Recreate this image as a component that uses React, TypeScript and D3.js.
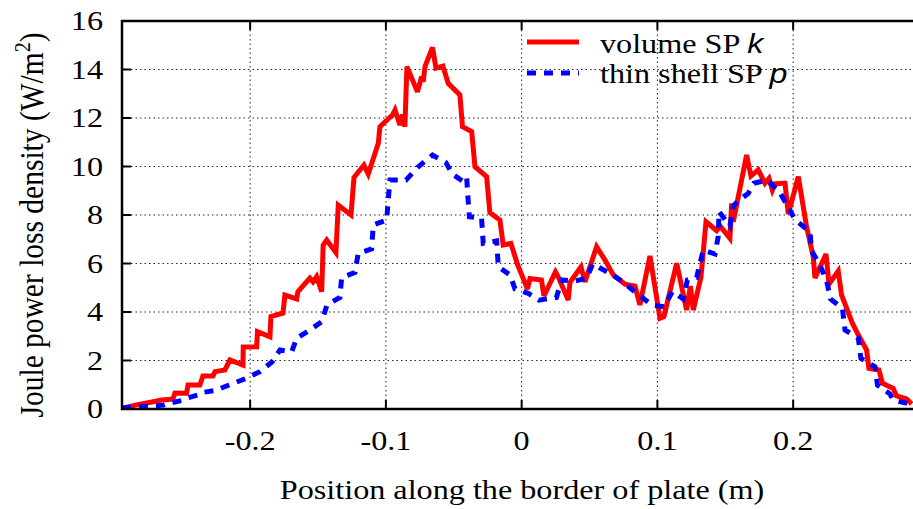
import React from "react";
import * as d3 from "d3";

const volumeSP: [number, number][] = [
  [-0.2944,0.02],[-0.2847,0.16],[-0.2751,0.26],[-0.2652,0.37],[-0.2569,0.41],[-0.2554,0.66],[-0.2468,0.65],[-0.2458,0.99],[-0.2370,0.99],[-0.2348,1.36],[-0.2274,1.36],[-0.2259,1.54],[-0.2186,1.61],[-0.2149,2.02],[-0.2053,1.81],[-0.2051,2.56],[-0.1952,2.57],[-0.1946,3.19],[-0.1854,2.98],[-0.1847,3.81],[-0.1758,3.96],[-0.1744,4.70],[-0.1657,4.54],[-0.1648,4.84],[-0.1560,5.40],[-0.1537,5.24],[-0.1510,5.46],[-0.1473,4.84],[-0.1462,6.76],[-0.1436,6.97],[-0.1368,6.45],[-0.1351,8.41],[-0.1257,8.00],[-0.1235,9.55],[-0.1162,10.06],[-0.1130,9.69],[-0.1056,10.96],[-0.1044,11.64],[-0.0952,12.12],[-0.0933,12.33],[-0.0897,11.71],[-0.0878,12.14],[-0.0860,11.64],[-0.0845,14.12],[-0.0768,13.08],[-0.0737,13.70],[-0.0725,13.50],[-0.0712,14.12],[-0.0657,14.91],[-0.0631,14.06],[-0.0580,14.14],[-0.0541,13.43],[-0.0455,12.95],[-0.0436,11.64],[-0.0368,11.44],[-0.0344,9.99],[-0.0258,9.58],[-0.0234,8.10],[-0.0160,7.79],[-0.0136,6.76],[-0.0079,6.83],[-0.0030,5.95],[0.0043,4.95],[0.0061,5.38],[0.0146,5.32],[0.0164,4.66],[0.0249,5.65],[0.0270,5.44],[0.0343,4.49],[0.0356,5.22],[0.0437,5.86],[0.0466,5.24],[0.0552,6.69],[0.0614,6.14],[0.0675,5.53],[0.0761,5.15],[0.0835,5.07],[0.0871,4.29],[0.0945,6.31],[0.1019,3.74],[0.1048,3.81],[0.1142,6.01],[0.1215,4.08],[0.1243,5.07],[0.1264,4.08],[0.1321,5.44],[0.1358,7.72],[0.1436,7.36],[0.1461,7.55],[0.1534,7.04],[0.1547,8.48],[0.1559,7.72],[0.1657,10.47],[0.1689,9.61],[0.1743,9.86],[0.1792,9.31],[0.1822,9.51],[0.1847,9.03],[0.1866,9.28],[0.1918,9.31],[0.1940,9.31],[0.1964,8.04],[0.2038,9.58],[0.2099,7.51],[0.2148,6.28],[0.2161,5.40],[0.2242,6.39],[0.2264,5.15],[0.2332,5.69],[0.2357,4.70],[0.2437,3.53],[0.2474,3.12],[0.2541,2.43],[0.2558,1.68],[0.2632,1.61],[0.2658,1.06],[0.2737,0.85],[0.2762,0.54],[0.2836,0.41],[0.2873,0.21]
];

const thinShellSP: [number, number][] = [
  [-0.2944,0.04],[-0.2847,0.10],[-0.2751,0.10],[-0.2641,0.16],[-0.2604,0.23],[-0.2505,0.35],[-0.2468,0.45],[-0.2382,0.58],[-0.2357,0.68],[-0.2259,0.76],[-0.2156,0.99],[-0.2124,1.06],[-0.2026,1.27],[-0.2009,1.33],[-0.1928,1.54],[-0.1839,1.94],[-0.1780,2.43],[-0.1694,2.36],[-0.1657,2.92],[-0.1559,3.26],[-0.1473,3.60],[-0.1434,4.29],[-0.1339,4.60],[-0.1326,5.42],[-0.1228,5.63],[-0.1204,6.42],[-0.1105,6.60],[-0.1093,7.59],[-0.0994,7.79],[-0.0983,8.62],[-0.0970,9.44],[-0.0852,9.44],[-0.0768,9.96],[-0.0657,10.47],[-0.0558,10.16],[-0.0510,9.69],[-0.0436,9.40],[-0.0405,9.57],[-0.0396,8.75],[-0.0385,7.93],[-0.0295,7.86],[-0.0283,6.83],[-0.0184,6.93],[-0.0172,5.87],[-0.0086,5.53],[-0.0049,4.95],[0.0049,4.77],[0.0127,4.49],[0.0256,4.60],[0.0295,5.32],[0.0396,5.28],[0.0481,5.40],[0.0522,5.98],[0.0638,5.63],[0.0737,5.28],[0.0846,4.78],[0.0960,4.29],[0.1048,4.22],[0.1111,4.85],[0.1190,4.54],[0.1221,5.32],[0.1289,5.42],[0.1338,6.56],[0.1424,6.39],[0.1448,7.11],[0.1454,8.14],[0.1534,7.55],[0.1559,8.37],[0.1601,8.62],[0.1669,8.89],[0.1711,9.31],[0.1805,9.44],[0.1829,9.34],[0.1906,8.89],[0.1954,8.41],[0.2017,7.79],[0.2124,7.31],[0.2136,6.52],[0.2197,5.94],[0.2247,5.28],[0.2275,4.54],[0.2363,4.15],[0.2382,3.26],[0.2480,2.92],[0.2499,2.09],[0.2603,1.74],[0.2621,0.99],[0.2713,0.62],[0.2737,0.37],[0.2842,0.23],[0.2860,0.08]
];

const xTicks = [-0.2, -0.1, 0, 0.1, 0.2];
const xTickLabels = ["-0.2", "-0.1", "0", "0.1", "0.2"];
const yTicks = [0, 2, 4, 6, 8, 10, 12, 14, 16];

const W = 913, H = 509;
const L = 122, T = 21, B = 409, R = 921.3;
const FONT = "'Liberation Serif', 'Times New Roman', serif";
const FS = 28;
const SX = 1.15;

export default function App() {
  const x = d3.scaleLinear().domain([-0.2944, 0.2944]).range([L, R]);
  const y = d3.scaleLinear().domain([0, 16]).range([B, T]);
  const line = d3.line<[number, number]>().x(d => x(d[0])).y(d => y(d[1]));

  const txt = (tx: number, ty: number, s: string, anchor: string) => (
    <text transform={`translate(${tx},${ty}) scale(${SX},1)`} textAnchor={anchor} style={{ fontFamily: FONT }} fontSize={FS} fill="#000">{s}</text>
  );

  return (
    <svg width={W} height={H} style={{ position: "absolute", left: 0, top: 0, background: "#fff" }}>
      <rect x={0} y={0} width={W} height={H} fill="#fff" />
      <defs>
        <clipPath id="plot"><rect x={L} y={T} width={R - L} height={B - T} /></clipPath>
      </defs>
      {yTicks.filter(v => v > 0 && v < 16).map(v => (
        <line key={"gy" + v} x1={L} x2={R} y1={y(v)} y2={y(v)} stroke="#000" strokeWidth={1} strokeDasharray="1.5,3" opacity={0.85} />
      ))}
      {xTicks.map(v => (
        <line key={"gx" + v} x1={x(v)} x2={x(v)} y1={T} y2={B} stroke="#000" strokeWidth={1} strokeDasharray="1.5,3" opacity={0.85} />
      ))}
      {yTicks.map(v => (
        <line key={"ty" + v} x1={L} x2={L + 9} y1={y(v)} y2={y(v)} stroke="#000" strokeWidth={2} />
      ))}
      {xTicks.map(v => (
        <g key={"tx" + v}>
          <line x1={x(v)} x2={x(v)} y1={B} y2={B - 9} stroke="#000" strokeWidth={2} />
          <line x1={x(v)} x2={x(v)} y1={T} y2={T + 9} stroke="#000" strokeWidth={2} />
        </g>
      ))}
      <g clipPath="url(#plot)">
        <path d={line(volumeSP) || ""} fill="none" stroke="#ff0000" strokeWidth={5} strokeLinejoin="miter" strokeMiterlimit={3} />
        <path d={line(thinShellSP) || ""} fill="none" stroke="#0000ff" strokeWidth={5} strokeDasharray="9,8" strokeLinejoin="miter" strokeMiterlimit={3} />
      </g>
      <rect x={L} y={T} width={R - L} height={B - T} fill="none" stroke="#000" strokeWidth={2.5} />
      {yTicks.map(v => <g key={"ly" + v}>{txt(103, y(v) + 9, String(v), "end")}</g>)}
      {xTicks.map((v, i) => <g key={"lx" + v}>{txt(x(v), 450, xTickLabels[i], "middle")}</g>)}
      {txt(522, 499, "Position along the border of plate (m)", "middle")}
      <text transform={`translate(43,225) rotate(-90) scale(1,${SX})`} textAnchor="middle" style={{ fontFamily: FONT }} fontSize={29.5} fill="#000">
        Joule power loss density (W/m<tspan fontSize={20} dy={-11}>2</tspan><tspan dy={11}>)</tspan>
      </text>
      <line x1={527} x2={579} y1={42} y2={42} stroke="#ff0000" strokeWidth={5} />
      <line x1={527} x2={579} y1={73} y2={73} stroke="#0000ff" strokeWidth={5} strokeDasharray="9,8" />
      <text transform={`translate(600,53) scale(${SX},1)`} style={{ fontFamily: FONT }} fontSize={FS} fill="#000">
        volume SP <tspan style={{ fontFamily: "'Liberation Sans', Arial, sans-serif", fontStyle: "italic" }}>k</tspan>
      </text>
      <text transform={`translate(600,83) scale(${SX},1)`} style={{ fontFamily: FONT }} fontSize={FS} fill="#000">
        thin shell SP <tspan style={{ fontFamily: "'Liberation Sans', Arial, sans-serif", fontStyle: "italic" }}>p</tspan>
      </text>
    </svg>
  );
}
